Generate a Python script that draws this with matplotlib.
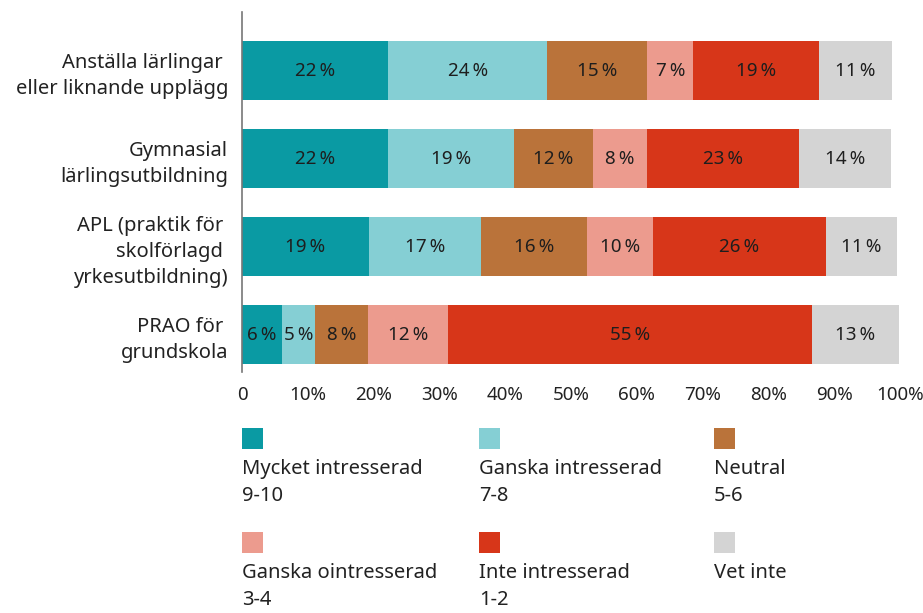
import matplotlib.pyplot as plt
from matplotlib.patches import Rectangle

plt.rcParams['font.family'] = ['Noto Sans', 'DejaVu Sans']

categories = [
    "Anställa lärlingar \neller liknande upplägg",
    "Gymnasial\nlärlingsutbildning",
    "APL (praktik för \nskolförlagd \nyrkesutbildning)",
    "PRAO för \ngrundskola",
]
series_names = [
    "Mycket intresserad\n9-10",
    "Ganska intresserad\n7-8",
    "Neutral\n5-6",
    "Ganska ointresserad\n3-4",
    "Inte intresserad\n1-2",
    "Vet inte",
]
colors = ["#0a9aa3", "#85cfd4", "#ba733a", "#ec9b8e", "#d73619", "#d4d4d4"]

# values per series, one entry per category (percent)
mycket = [22.2, 22.2, 19.3, 6.1]
ganska = [24.2, 19.1, 17.0, 5.0]
neutral = [15.2, 12.0, 16.1, 8.0]
ointresserad = [7.0, 8.2, 10.0, 12.2]
inte = [19.1, 23.1, 26.3, 55.3]
vet_inte = [11.1, 14.1, 10.9, 13.2]
series = [mycket, ganska, neutral, ointresserad, inte, vet_inte]

ticks = [0, 10, 20, 30, 40, 50, 60, 70, 80, 90, 100]
tick_labels = ["0"] + [f"{t}%" for t in ticks[1:]]

fig = plt.figure(figsize=(9.23, 6.13), dpi=100)
ax = fig.add_axes([0.2622, 0.3931, 0.9751 - 0.2622, 0.9804 - 0.3931])

ypos = list(range(len(categories)))
left = [0.0] * len(categories)
for vals, col in zip(series, colors):
    bars = ax.barh(ypos, vals, left=left, height=0.67, color=col, linewidth=0)
    for b, v in zip(bars, vals):
        ax.text(b.get_x() + b.get_width() / 2, b.get_y() + b.get_height() / 2,
                f"{v:.0f}\u2009%", ha="center", va="center", fontsize=13.5,
                color="#1e1e1e", family=["Noto Sans", "DejaVu Sans"])
    left = [l + v for l, v in zip(left, vals)]

ax.set_xlim(0, 100)
ax.set_ylim(3.426, -0.665)
ax.set_xticks(ticks)
ax.set_xticklabels(tick_labels)
ax.set_yticks(ypos)
ax.set_yticklabels(categories, linespacing=1.4)
ax.tick_params(axis="both", length=0, colors="#222222")
ax.tick_params(axis="x", pad=10, labelsize=13.5)
ax.tick_params(axis="y", pad=10, labelsize=14.5)
for s in ["top", "right", "bottom"]:
    ax.spines[s].set_visible(False)
ax.spines["left"].set_color("#777777")
ax.spines["left"].set_linewidth(1.2)

# legend: square above text, 3 columns x 2 rows
W, H = 923, 613
col_x = [242, 479, 714]
row_y = [428, 532]
for i, (name, col) in enumerate(zip(series_names, colors)):
    x = col_x[i % 3]
    y = row_y[i // 3]
    fig.add_artist(Rectangle((x / W, 1 - (y + 21) / H), 21 / W, 21 / H,
                             transform=fig.transFigure, color=col, linewidth=0))
    fig.text(x / W, 1 - (y + 31) / H, name, ha="left", va="top",
             fontsize=14.5, color="#222222", linespacing=1.45)

fig.savefig("out.png", dpi=100)
